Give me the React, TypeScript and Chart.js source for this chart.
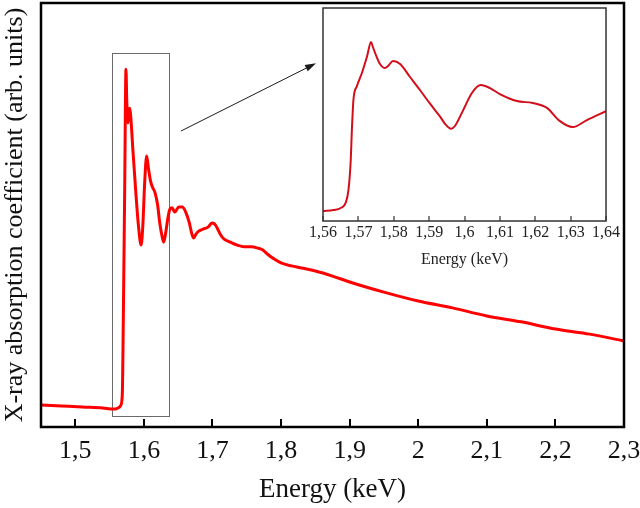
import React, { useEffect, useRef } from "react";
import { Chart, registerables } from "chart.js";

Chart.register(...registerables);

// Full XANES scan (energy in keV, absorption in arbitrary units)
const energy = [
  1.45, 1.48, 1.51, 1.54, 1.555, 1.56, 1.5635, 1.566, 1.5685, 1.57, 1.572, 1.5739,
  1.575, 1.5768, 1.5785, 1.5795, 1.581, 1.584, 1.588, 1.592, 1.596, 1.5985, 1.601,
  1.604, 1.607, 1.61, 1.613, 1.616, 1.62, 1.623, 1.627, 1.629, 1.632, 1.635, 1.638,
  1.641, 1.645, 1.651, 1.656, 1.661, 1.666, 1.67, 1.6725, 1.676, 1.68, 1.687, 1.694,
  1.699, 1.703, 1.707, 1.712, 1.717, 1.726, 1.736, 1.746, 1.756, 1.766, 1.774, 1.78,
  1.79, 1.8, 1.815, 1.83, 1.85, 1.875, 1.9, 1.95, 2.0, 2.05, 2.1, 2.15, 2.2, 2.25, 2.3,
];
const absorption = [
  5.2, 4.95, 4.7, 4.5, 4.25, 4.3, 4.6, 5.0, 7.5, 25.2, 55.9, 84.4,
  77.1, 71.7, 74.8, 75.2, 72.9, 65.3, 55.9, 47.6, 42.9, 47.6, 57.1,
  63.9, 60.6, 57.8, 56.4, 55.4, 52.4, 48.3, 44.6, 43.6, 46.0, 49.3, 51.4,
  51.7, 50.7, 51.9, 51.9, 50.7, 48.3, 45.5, 44.6, 45.5, 46.2, 46.7, 47.2,
  48.1, 47.9, 46.9, 45.3, 44.3, 43.6, 42.9, 42.5, 42.5, 42.2, 41.7, 40.8,
  39.6, 38.7, 38.0, 37.5, 36.8, 35.6, 34.2, 31.8, 29.7, 28.1, 26.2, 24.8, 23.1, 21.9, 20.3,
];
const energyTicks = [1.5, 1.6, 1.7, 1.8, 1.9, 2.0, 2.1, 2.2, 2.3];

// Edge region shown enlarged in the inset
const zoomWindowEnergy = [1.553, 1.637];
const zoomWindowLevel = [2.6, 88.2];
const arrowFrom = [1.654, 69.8];
const arrowTo = [1.851, 85.8];

// Fine scan of the absorption edge
const insetEnergy = [
  1.56, 1.563, 1.565, 1.5665, 1.5672, 1.5678, 1.5682, 1.5686, 1.5696, 1.571,
  1.5724, 1.5736, 1.5741, 1.5753, 1.5761, 1.5775, 1.5784, 1.5798, 1.5818, 1.5846,
  1.5874, 1.5902, 1.5931, 1.5945, 1.5962, 1.5973, 1.5995, 1.6021, 1.6046, 1.6072,
  1.61, 1.6148, 1.6193, 1.6233, 1.6269, 1.6306, 1.6346, 1.64,
];
const insetAbsorption = [
  4.7, 5.2, 6.1, 8.9, 14.6, 27.2, 44.1, 56.8, 63.4, 69.5,
  77.0, 84.0, 81.7, 76.5, 73.7, 71.8, 72.8, 75.1, 73.7, 67.6,
  61.5, 55.2, 49.0, 45.6, 43.3, 44.6, 51.6, 60.1, 63.8, 62.4,
  59.6, 56.3, 55.4, 53.1, 47.0, 44.1, 47.4, 51.6,
];
const insetTicks = [1.56, 1.57, 1.58, 1.59, 1.6, 1.61, 1.62, 1.63, 1.64];

const SERIF = "'Liberation Serif', 'Times New Roman', serif";

const commaLabel = (v: number | string) =>
  String(Number(Number(v).toFixed(2))).replace(".", ",");

// Frame around the plot area with tick marks pointing inwards from the bottom axis
function frameWithTicks(id: string, frameWidth: number, frameColor: string, tickLen: number, tickWidth: number) {
  return {
    id,
    afterDraw(chart: any) {
      const { ctx, chartArea: a, scales } = chart;
      const xs = scales.x;
      ctx.save();
      ctx.strokeStyle = frameColor;
      ctx.lineWidth = frameWidth;
      ctx.strokeRect(a.left, a.top, a.right - a.left, a.bottom - a.top);
      ctx.lineWidth = tickWidth;
      ctx.beginPath();
      for (const t of xs.ticks) {
        const px = Math.round(xs.getPixelForValue(t.value));
        ctx.moveTo(px, a.bottom);
        ctx.lineTo(px, a.bottom - tickLen);
      }
      ctx.stroke();
      ctx.restore();
    },
  };
}

const zoomMarker = {
  id: "zoomMarker",
  beforeDatasetsDraw(chart: any) {
    const { ctx, scales: { x, y } } = chart;
    const x0 = Math.round(x.getPixelForValue(zoomWindowEnergy[0])) + 0.5;
    const x1 = Math.round(x.getPixelForValue(zoomWindowEnergy[1])) + 0.5;
    const y0 = Math.round(y.getPixelForValue(zoomWindowLevel[1])) + 0.5;
    const y1 = Math.round(y.getPixelForValue(zoomWindowLevel[0])) + 0.5;
    ctx.save();
    ctx.strokeStyle = "#6a6a6a";
    ctx.lineWidth = 1;
    ctx.strokeRect(x0, y0, x1 - x0, y1 - y0);
    ctx.restore();
  },
  afterDraw(chart: any) {
    const { ctx, scales: { x, y } } = chart;
    const ax = x.getPixelForValue(arrowFrom[0]);
    const ay = y.getPixelForValue(arrowFrom[1]);
    const bx = x.getPixelForValue(arrowTo[0]);
    const by = y.getPixelForValue(arrowTo[1]);
    const ang = Math.atan2(by - ay, bx - ax);
    const head = 11;
    const half = 3.5;
    ctx.save();
    ctx.strokeStyle = "#1a1a1a";
    ctx.fillStyle = "#1a1a1a";
    ctx.lineWidth = 1;
    ctx.beginPath();
    ctx.moveTo(ax, ay);
    ctx.lineTo(bx - Math.cos(ang) * head * 0.8, by - Math.sin(ang) * head * 0.8);
    ctx.stroke();
    const hx = bx - Math.cos(ang) * head;
    const hy = by - Math.sin(ang) * head;
    ctx.beginPath();
    ctx.moveTo(bx, by);
    ctx.lineTo(hx + Math.sin(ang) * half, hy - Math.cos(ang) * half);
    ctx.lineTo(hx - Math.sin(ang) * half, hy + Math.cos(ang) * half);
    ctx.closePath();
    ctx.fill();
    ctx.restore();
  },
};

const whitePanel = {
  id: "whitePanel",
  beforeDraw(chart: any) {
    const { ctx, chartArea: a } = chart;
    ctx.save();
    ctx.fillStyle = "#ffffff";
    ctx.fillRect(a.left, a.top, a.right - a.left, a.bottom - a.top);
    ctx.restore();
  },
};

export default function App() {
  const mainRef = useRef<HTMLCanvasElement>(null);
  const insetRef = useRef<HTMLCanvasElement>(null);

  useEffect(() => {
    const main = new Chart(mainRef.current as HTMLCanvasElement, {
      type: "line",
      data: {
        datasets: [
          {
            data: energy.map((e, i) => ({ x: e, y: absorption[i] })),
            borderColor: "#ff0000",
            borderWidth: 3,
            pointRadius: 0,
            cubicInterpolationMode: "monotone",
            fill: false,
          },
        ],
      },
      options: {
        responsive: false,
        animation: false,
        events: [],
        layout: { padding: { top: 3, right: 16, left: 0, bottom: 0 } },
        plugins: { legend: { display: false }, tooltip: { enabled: false } },
        scales: {
          x: {
            type: "linear",
            min: 1.45,
            max: 2.3,
            afterBuildTicks: (s: any) => {
              s.ticks = energyTicks.map((v) => ({ value: v }));
            },
            afterFit: (s: any) => {
              s.height = 81;
              s.paddingLeft = 0;
              s.paddingRight = 0;
            },
            grid: { display: false, drawTicks: false },
            border: { display: false },
            ticks: {
              callback: (v: any) => commaLabel(v),
              color: "#111",
              font: { family: SERIF, size: 26 },
              padding: 9,
              maxRotation: 0,
              autoSkip: false,
            },
            title: {
              display: true,
              text: "Energy (keV)",
              color: "#111",
              font: { family: SERIF, size: 27 },
              padding: { top: 0, bottom: 2 },
            },
          },
          y: {
            type: "linear",
            min: 0,
            max: 100,
            afterFit: (s: any) => {
              s.width = 41;
            },
            grid: { display: false, drawTicks: false },
            border: { display: false },
            ticks: { display: false },
            title: {
              display: true,
              text: "X-ray absorption coefficient (arb. units)",
              color: "#111",
              font: { family: SERIF, size: 26 },
              padding: { top: 0, bottom: 0 },
            },
          },
        },
      },
      plugins: [zoomMarker, frameWithTicks("mainFrame", 2.5, "#000", 8, 2)],
    } as any);

    const inset = new Chart(insetRef.current as HTMLCanvasElement, {
      type: "line",
      data: {
        datasets: [
          {
            data: insetEnergy.map((e, i) => ({ x: e, y: insetAbsorption[i] })),
            borderColor: "#d40d1a",
            borderWidth: 2,
            pointRadius: 0,
            cubicInterpolationMode: "monotone",
            fill: false,
          },
        ],
      },
      options: {
        responsive: false,
        animation: false,
        events: [],
        layout: { padding: { top: 8, right: 34, left: 23, bottom: 0 } },
        plugins: { legend: { display: false }, tooltip: { enabled: false } },
        scales: {
          x: {
            type: "linear",
            min: 1.56,
            max: 1.64,
            afterBuildTicks: (s: any) => {
              s.ticks = insetTicks.map((v) => ({ value: v }));
            },
            afterFit: (s: any) => {
              s.height = 54;
              s.paddingLeft = 0;
              s.paddingRight = 0;
            },
            grid: { display: false, drawTicks: false },
            border: { display: false },
            ticks: {
              callback: (v: any) => commaLabel(v),
              color: "#222",
              font: { family: SERIF, size: 16 },
              padding: 2,
              maxRotation: 0,
              autoSkip: false,
            },
            title: {
              display: true,
              text: "Energy (keV)",
              color: "#222",
              font: { family: SERIF, size: 16 },
              padding: { top: 0, bottom: 6 },
            },
          },
          y: { type: "linear", min: 0, max: 100, display: false },
        },
      },
      plugins: [whitePanel, frameWithTicks("insetFrame", 1.5, "#333", 5, 1.2)],
    } as any);

    return () => {
      main.destroy();
      inset.destroy();
    };
  }, []);

  return (
    <div style={{ position: "fixed", left: 0, top: 0, width: 640, height: 508, background: "#fff" }}>
      <canvas
        ref={mainRef}
        width={640}
        height={508}
        style={{ position: "absolute", left: 0, top: 0, width: 640, height: 508 }}
      />
      <canvas
        ref={insetRef}
        width={340}
        height={275}
        style={{ position: "absolute", left: 300, top: 0, width: 340, height: 275 }}
      />
    </div>
  );
}
